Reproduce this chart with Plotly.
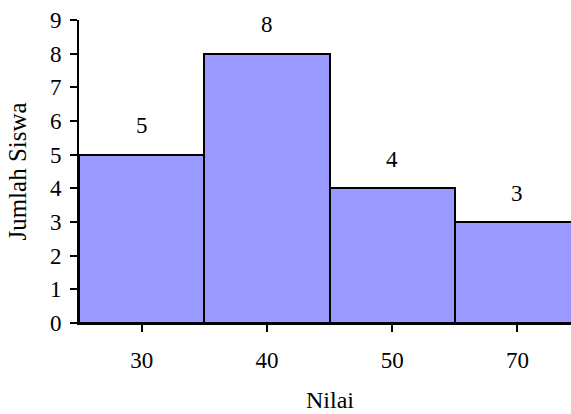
import plotly.graph_objects as go

categories = ["30", "40", "50", "70"]
values = [5, 8, 4, 3]
y_ticks = list(range(0, 10))
x_title = "Nilai"
y_title = "Jumlah Siswa"

FONT = '"Liberation Serif", "Times New Roman", Times, serif'

fig = go.Figure()
fig.add_trace(go.Bar(
    x=list(range(len(categories))),
    y=values,
    marker=dict(color="#9999FF", line=dict(color="black", width=2)),
    width=1.0,
    hoverinfo="skip",
))

for i, v in enumerate(values):
    fig.add_annotation(x=i, y=v, text=str(v), showarrow=False, xref="x", yref="y",
                       yshift=29, yanchor="middle", font=dict(size=23, color="black", family=FONT))

fig.add_annotation(x=(329.5 - 79) / 492, y=-0.254, xref="paper", yref="paper", text=x_title,
                   showarrow=False, yanchor="middle", font=dict(size=24, color="black", family=FONT))

fig.update_layout(
    width=571, height=414,
    margin=dict(l=79, r=0, t=20, b=91),
    paper_bgcolor="white", plot_bgcolor="white",
    bargap=0, showlegend=False,
    font=dict(family=FONT, size=23, color="black"),
)
fig.update_xaxes(
    range=[-0.5, 3.428], automargin=False,
    tickmode="array", tickvals=list(range(len(categories))), ticktext=categories,
    tickson="boundaries", ticks="outside", ticklen=7, tickwidth=2, tickcolor="black",
    showline=True, linecolor="black", linewidth=2, showgrid=False, zeroline=False,
    ticklabelstandoff=8,
)
fig.update_yaxes(
    range=[0, 9], tickvals=y_ticks, automargin=False,
    ticks="outside", ticklen=7, tickwidth=2, tickcolor="black",
    showline=True, linecolor="black", linewidth=2, showgrid=False, zeroline=False,
    title=dict(text=y_title, font=dict(size=25, family=FONT), standoff=16),
    ticklabelstandoff=4,
)

fig.write_html(
    "out.html",
    config={"displayModeBar": False},
    post_script="document.body.style.margin='0';document.body.style.overflow='hidden';",
)
